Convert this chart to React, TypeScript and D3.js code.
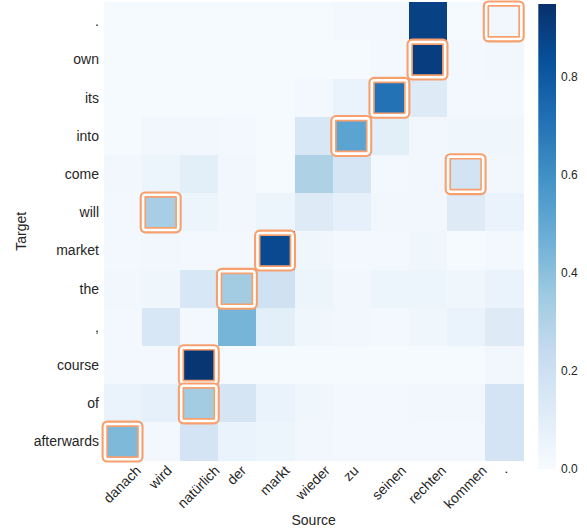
import React from "react";
import * as d3 from "d3";

const sourceTokens = ["danach", "wird", "natürlich", "der", "markt", "wieder", "zu", "seinen", "rechten", "kommen", "."];
const targetTokens = [".", "own", "its", "into", "come", "will", "market", "the", ",", "course", "of", "afterwards"];

const rowDot = [0.01, 0.01, 0.01, 0.01, 0.01, 0.01, 0.02, 0.02, 0.89, 0.01, 0.03];
const rowOwn = [0.01, 0.01, 0.01, 0.01, 0.01, 0.01, 0.01, 0.02, 0.9, 0.02, 0.03];
const rowIts = [0.01, 0.01, 0.01, 0.01, 0.01, 0.02, 0.06, 0.71, 0.12, 0.02, 0.02];
const rowInto = [0.01, 0.03, 0.03, 0.02, 0.01, 0.15, 0.52, 0.1, 0.03, 0.04, 0.04];
const rowCome = [0.03, 0.05, 0.1, 0.03, 0.01, 0.31, 0.16, 0.02, 0.03, 0.18, 0.03];
const rowWill = [0.02, 0.33, 0.05, 0.03, 0.05, 0.12, 0.08, 0.03, 0.03, 0.12, 0.06];
const rowMarket = [0.02, 0.03, 0.02, 0.02, 0.86, 0.04, 0.02, 0.02, 0.04, 0.01, 0.02];
const rowThe = [0.03, 0.04, 0.15, 0.34, 0.19, 0.05, 0.03, 0.05, 0.05, 0.04, 0.06];
const rowComma = [0.02, 0.15, 0.02, 0.45, 0.1, 0.04, 0.03, 0.02, 0.04, 0.06, 0.12];
const rowCourse = [0.02, 0.02, 0.93, 0.01, 0.01, 0.01, 0.01, 0.01, 0.01, 0.01, 0.03];
const rowOf = [0.06, 0.08, 0.34, 0.16, 0.06, 0.04, 0.02, 0.02, 0.03, 0.03, 0.17];
const rowAfterwards = [0.43, 0.02, 0.17, 0.06, 0.05, 0.03, 0.02, 0.02, 0.02, 0.02, 0.17];

const matrix = [rowDot, rowOwn, rowIts, rowInto, rowCome, rowWill, rowMarket, rowThe, rowComma, rowCourse, rowOf, rowAfterwards];

const highlights = [
  [0, 10], [1, 8], [2, 7], [3, 6], [4, 9], [5, 1], [6, 4], [7, 3], [9, 2], [10, 2], [11, 0],
];

const colorbarTicks = [0.0, 0.2, 0.4, 0.6, 0.8];
const vmax = 0.95;

const bluesStops = ["#f7fbff", "#deebf7", "#c6dbef", "#9ecae1", "#6baed6", "#4292c6", "#2171b5", "#08519c", "#08306b"];

const FONT = "Liberation Sans, Arial, sans-serif";
const TEXT = "#262626";

function measure(text: string, size: number, fam = FONT): number {
  if (typeof document === "undefined") return text.length * size * 0.5;
  const c = document.createElement("canvas");
  const ctx = c.getContext("2d");
  if (!ctx) return text.length * size * 0.5;
  ctx.font = `${size}px ${fam}`;
  return ctx.measureText(text).width;
}

export default function App() {
  const W = 587, H = 530;
  const left = 104, right = 523.3, top = 2.1, bottom = 460.5;

  const x = d3.scaleBand<number>().domain(d3.range(sourceTokens.length)).range([left, right]);
  const y = d3.scaleBand<number>().domain(d3.range(targetTokens.length)).range([top, bottom]);

  const color = d3
    .scaleLinear<string>()
    .domain(bluesStops.map((_, i) => (i / (bluesStops.length - 1)) * vmax))
    .range(bluesStops)
    .interpolate(d3.interpolateRgb)
    .clamp(true);

  const cbX = 538.3, cbW = 17.7, cbTop = 4, cbBottom = 469;
  const cbScale = d3.scaleLinear().domain([0, vmax]).range([cbBottom, cbTop]);

  const xTickTop = 463;
  const fs = 14;

  return (
    <svg width={W} height={H} style={{ position: "absolute", left: 0, top: 0, background: "#fff", fontFamily: FONT }}>
      <defs>
        <linearGradient id="cbgrad" x1="0" y1="1" x2="0" y2="0">
          {bluesStops.map((c, i) => (
            <stop key={i} offset={`${(i / (bluesStops.length - 1)) * 100}%`} stopColor={c} />
          ))}
        </linearGradient>
      </defs>
      <rect x={0} y={0} width={W} height={H} fill="#fff" />
      <g shapeRendering="crispEdges">
        {matrix.map((row, i) =>
          row.map((v, j) => (
            <rect key={`${i}-${j}`} x={x(j)!} y={y(i)!} width={x.bandwidth() + 0.3} height={y.bandwidth() + 0.3} fill={color(v)} />
          ))
        )}
      </g>
      {highlights.map(([i, j], k) => {
        const cx = x(j)! + x.bandwidth() / 2 - 0.5;
        const cy = y(i)! + y.bandwidth() / 2 + 0.2;
        return (
          <g key={k}>
            <rect x={cx - 17.8} y={cy - 17.8} width={35.6} height={35.6} rx={2.5} fill="none" stroke="#f7a06e" strokeWidth={6.4} />
            <rect x={cx - 17.6} y={cy - 17.6} width={35.2} height={35.2} rx={2.5} fill="none" stroke="#ffffff" strokeWidth={2.6} />
          </g>
        );
      })}
      {targetTokens.map((t, i) => (
        <text key={`yt${i}`} x={99} y={y(i)! + y.bandwidth() / 2} textAnchor="end" dominantBaseline="central" fontSize={fs} fill={TEXT} style={{ fontFamily: FONT }}>
          {t}
        </text>
      ))}
      {sourceTokens.map((t, j) => {
        const w = measure(t, fs);
        const bh = (w + fs) * Math.SQRT1_2;
        const cx = x(j)! + x.bandwidth() / 2 - 1;
        const cy = xTickTop + bh / 2;
        return (
          <text key={`xt${j}`} transform={`translate(${cx},${cy}) rotate(-45)`} textAnchor="middle" dominantBaseline="central" fontSize={fs} fill={TEXT} style={{ fontFamily: FONT }}>
            {t}
          </text>
        );
      })}
      <text x={(left + right) / 2} y={525} textAnchor="middle" fontSize={fs} fill={TEXT} style={{ fontFamily: FONT }}>
        Source
      </text>
      <text transform={`translate(21,${(top + bottom) / 2}) rotate(-90)`} textAnchor="middle" dominantBaseline="central" fontSize={fs} fill={TEXT} style={{ fontFamily: FONT }}>
        Target
      </text>
      <rect x={cbX} y={cbTop} width={cbW} height={cbBottom - cbTop} fill="url(#cbgrad)" />
      {colorbarTicks.map((t) => (
        <text key={`cb${t}`} x={561} y={cbScale(t)} dominantBaseline="central" fontSize={12} fill={TEXT} style={{ fontFamily: FONT }}>
          {t.toFixed(1)}
        </text>
      ))}
    </svg>
  );
}
